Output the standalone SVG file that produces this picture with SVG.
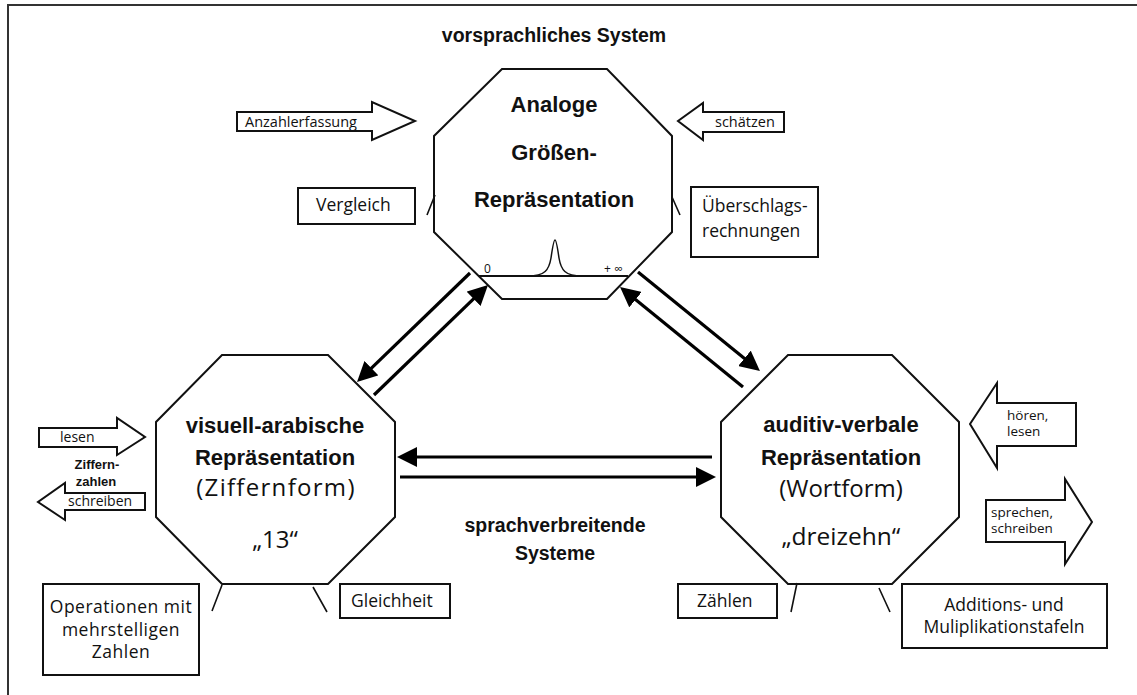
<svg xmlns="http://www.w3.org/2000/svg" width="1137" height="695" viewBox="0 0 1137 695">
<defs>
<style>
.oct{fill:#fff;stroke:#111;stroke-width:2}
.tick{fill:none;stroke:#111;stroke-width:1.6}
.box{fill:#fff;stroke:#111;stroke-width:2}
.blk{fill:#fff;stroke:#111;stroke-width:2}
.con{stroke:#000;stroke-width:3.2;fill:none}
.b{font-family:"Liberation Sans",Arial,sans-serif;font-weight:bold;fill:#111}
.r{font-family:"Open Sans","DejaVu Sans",sans-serif;fill:#111}
.t22{font-size:22px}
.t19{font-size:19.5px}
.mid{text-anchor:middle}
</style>
<marker id="ah" markerUnits="userSpaceOnUse" markerWidth="20" markerHeight="20" refX="10" refY="10" orient="auto" viewBox="0 0 20 20">
<path d="M0,0 L20,10 L0,20 z" fill="#000"/>
</marker>
</defs>
<rect x="0" y="0" width="1137" height="695" fill="#fff"/>
<g id="frame">
<path d="M8,695 L8,5 L1137,5" fill="none" stroke="#333" stroke-width="2"/>
</g>
<text class="b t19 mid" x="554" y="42">vorsprachliches System</text>

<g id="node-analog">
<polygon class="oct" points="502,69 607,69 672,136 672,232 607,299 502,299 434,232 434,136"/>
<line x1="478" y1="276" x2="628" y2="276" stroke="#111" stroke-width="2"/>
<path d="M528,276 C545,276 549,270 551,258 C553,244 554,240 555,240 C556,240 557,244 559,258 C561,270 565,276 582,276" fill="none" stroke="#111" stroke-width="1.5"/>
<path class="tick" d="M435,195 L427,215 M672,197 L680,215"/>
<text class="b t22 mid" x="554" y="112">Analoge</text>
<text class="b t22 mid" x="554" y="160">Größen-</text>
<text class="b t22 mid" x="554" y="207">Repräsentation</text>
<text class="r" x="484" y="273" font-size="12">0</text>
<text class="r" x="604" y="273" font-size="12">+ ∞</text>
</g>

<g id="node-visuell">
<polygon class="oct" points="222,355 328,355 395,422 395,517 328,584 222,584 156,517 156,422"/>
<path class="tick" d="M222,585 L212,611 M313,587 L327,612"/>
<text class="b t22 mid" x="275" y="433">visuell-arabische</text>
<text class="b t22 mid" x="275" y="465">Repräsentation</text>
<text class="r mid" x="276" y="496" font-size="24" letter-spacing="1.3">(Ziffernform)</text>
<text class="r mid" x="275" y="548" font-size="24">„13“</text>
</g>

<g id="node-auditiv">
<polygon class="oct" points="788,355 892,355 959,422 959,517 892,584 788,584 721,517 721,422"/>
<path class="tick" d="M797,583 L791,612 M879,588 L890,612"/>
<text class="b t22 mid" x="841" y="432">auditiv-verbale</text>
<text class="b t22 mid" x="841" y="465">Repräsentation</text>
<text class="r mid" x="841" y="497" font-size="24">(Wortform)</text>
<text class="r mid" x="841" y="545" font-size="24.5">„dreizehn“</text>
</g>

<g id="arrow-anzahl">
<polygon class="blk" points="237,112 372,112 372,102 415,121 372,140 372,131 237,131"/>
<text class="r" x="245" y="127" font-size="14.5">Anzahlerfassung</text>
</g>
<g id="arrow-schaetzen">
<polygon class="blk" points="784,112 703,112 703,103 678,121 703,140 703,132 784,132"/>
<text class="r" x="715" y="127" font-size="14.5">schätzen</text>
</g>
<g id="box-vergleich">
<rect class="box" x="298" y="188" width="117" height="36"/>
<text class="r" x="316" y="211" font-size="17.5">Vergleich</text>
</g>
<g id="box-ueberschlag">
<rect class="box" x="691" y="187" width="127" height="70"/>
<text class="r" x="702" y="212" font-size="17.5">Überschlags-</text>
<text class="r" x="702" y="237" font-size="17.5">rechnungen</text>
</g>

<g id="arrow-lesen">
<polygon class="blk" points="39,428 117,428 117,418 145,437 117,455 117,447 39,447"/>
<text class="r" x="60" y="442" font-size="14">lesen</text>
</g>
<g id="label-ziffernzahlen">
<text class="b mid" x="97" y="469" font-size="13">Ziffern-</text>
<text class="b mid" x="96" y="486" font-size="13">zahlen</text>
</g>
<g id="arrow-schreiben">
<polygon class="blk" points="145,493 65,493 65,483 38,502 65,520 65,510 145,510"/>
<text class="r" x="68" y="506" font-size="14">schreiben</text>
</g>

<g id="arrow-hoeren">
<polygon class="blk" points="1076,403 997,403 997,383 970,424 997,468 997,446 1076,446"/>
<text class="r" x="1007" y="420" font-size="13.5">hören,</text>
<text class="r" x="1007" y="436" font-size="13.5">lesen</text>
</g>
<g id="arrow-sprechen">
<polygon class="blk" points="986,500 1065,500 1065,479 1092,522 1065,564 1065,542 986,542"/>
<text class="r" x="991" y="517" font-size="13.5">sprechen,</text>
<text class="r" x="991" y="533" font-size="13.5">schreiben</text>
</g>

<g id="box-operationen">
<rect class="box" x="43" y="584" width="156" height="91"/>
<text class="r mid" x="121" y="613" font-size="17.5" letter-spacing="0.5">Operationen mit</text>
<text class="r mid" x="121" y="636" font-size="17.5" letter-spacing="0.5">mehrstelligen</text>
<text class="r mid" x="121" y="658" font-size="17.5" letter-spacing="0.5">Zahlen</text>
</g>
<g id="box-gleichheit">
<rect class="box" x="340" y="584" width="110" height="34"/>
<text class="r" x="351" y="607" font-size="17.5">Gleichheit</text>
</g>
<g id="box-zaehlen">
<rect class="box" x="678" y="584" width="99" height="34"/>
<text class="r" x="697" y="607" font-size="17.5">Zählen</text>
</g>
<g id="box-additionen">
<rect class="box" x="902" y="584" width="205" height="64"/>
<text class="r mid" x="1004" y="611" font-size="17.5">Additions- und</text>
<text class="r mid" x="1004" y="633" font-size="17.5">Muliplikationstafeln</text>
</g>

<text class="b t19 mid" x="555" y="532">sprachverbreitende</text>
<text class="b t19 mid" x="555" y="560">Systeme</text>

<g id="connectors">
<line class="con" x1="470" y1="273" x2="364.2" y2="375.1" marker-end="url(#ah)"/>
<line class="con" x1="374" y1="395" x2="480.8" y2="291.9" marker-end="url(#ah)"/>
<line class="con" x1="638" y1="272" x2="752.2" y2="364.7" marker-end="url(#ah)"/>
<line class="con" x1="743" y1="387" x2="627.8" y2="293.3" marker-end="url(#ah)"/>
<line class="con" x1="712" y1="457" x2="407" y2="457" marker-end="url(#ah)"/>
<line class="con" x1="400" y1="477" x2="706" y2="477" marker-end="url(#ah)"/>
</g>
</svg>
